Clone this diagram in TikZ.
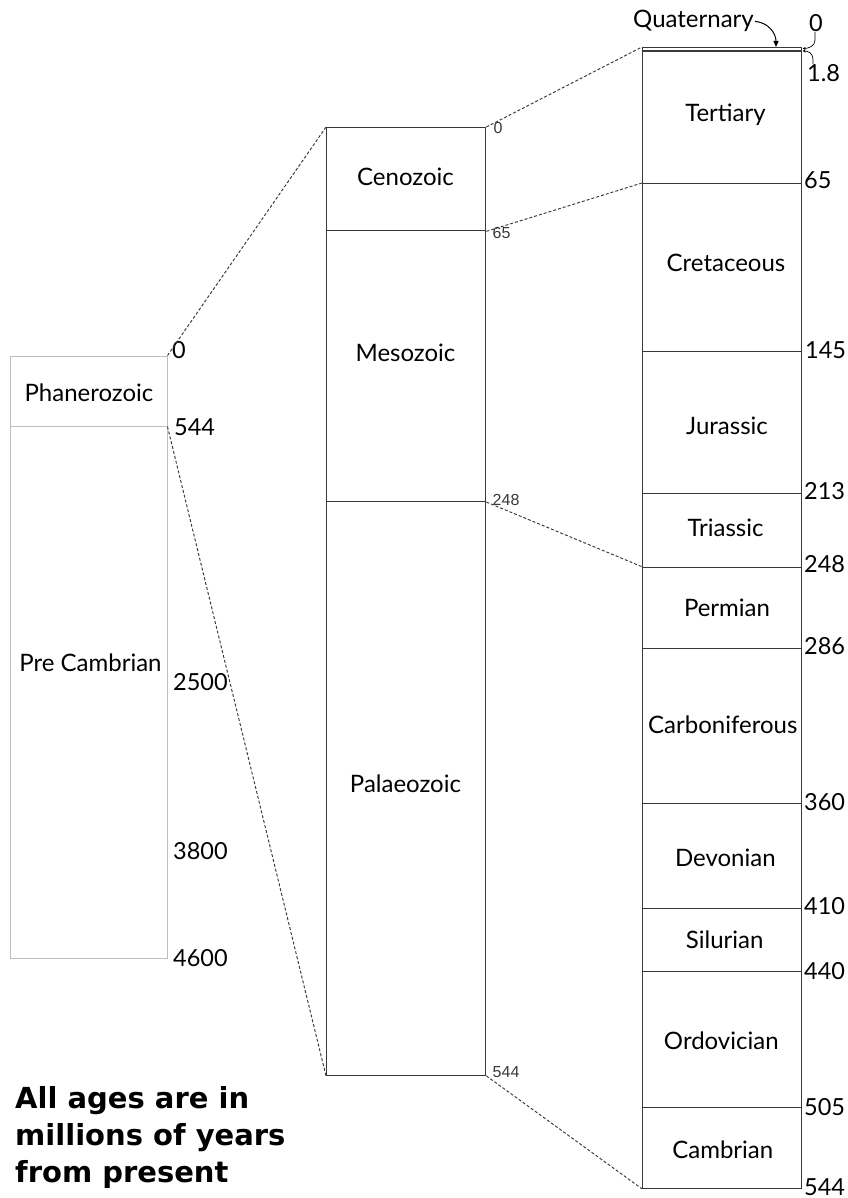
\documentclass[tikz,border=0pt]{standalone}
\usepackage{fontspec}
\setmainfont{Lato}
\newfontfamily\smallf{Liberation Sans}
\newfontfamily\notef{DejaVu Sans}
\usetikzlibrary{arrows.meta}
\definecolor{linec}{HTML}{383838}
\definecolor{lightc}{HTML}{BEBEBE}
\begin{document}
\begin{tikzpicture}[x=1pt,y=-1pt,
  band/.style={draw=linec, line width=1.35pt, inner sep=0pt, anchor=north west, minimum width=159pt},
  lband/.style={draw=lightc, line width=1pt, inner sep=0pt, anchor=north west, minimum width=157pt},
  ename/.style={anchor=base, inner sep=0pt, font=\fontsize{24}{26}\selectfont},
  age/.style={anchor=base west, inner sep=0pt, font=\fontsize{23.5}{25}\selectfont},
  sage/.style={anchor=base west, inner sep=0pt, font=\smallf\fontsize{16}{18}\selectfont, text=linec},
  link/.style={draw=linec, line width=0.95pt, dash pattern=on 3pt off 2pt},
  arr/.style={draw=black, line width=1pt, -{Triangle[length=6pt,width=5pt]}},
  arrs/.style={draw=black, line width=0.7pt, -{Stealth[length=3pt,width=3pt]}},
]
\useasboundingbox (0,0) rectangle (847,1198);
% left column
\node[lband, minimum height=70.2pt] (phan) at (9.5,355.5) {};
\node[lband, minimum height=532.3pt] (pre) at (9.5,425.7) {};
\node[ename] (phan-t) at (89,401) {Phanerozoic};
\node[ename] (pre-t) at (90.5,671) {Pre Cambrian};
\node[age] (l0) at (172,358) {0};
\node[age] (l544) at (174,435) {544};
\node[age] (l2500) at (173,690) {2500};
\node[age] (l3800) at (173,859) {3800};
\node[age] (l4600) at (173,966.7) {4600};
% middle column
\node[band, minimum height=103pt] (ceno) at (326,127) {};
\node[band, minimum height=270.7pt] (meso) at (326,230) {};
\node[band, minimum height=573.8pt] (palaeo) at (326,500.7) {};
\node[ename] (ceno-t) at (405.5,186) {Cenozoic};
\node[ename] (meso-t) at (405.5,361) {Mesozoic};
\node[ename] (palaeo-t) at (405.5,792) {Palaeozoic};
\node[sage] (m0) at (493.5,134) {0};
\node[sage] (m65) at (492.5,239) {65};
\node[sage] (m248) at (492.5,505) {248};
\node[sage] (m544) at (492.5,1077.7) {544};
% right column
\node[band, minimum height=3.5pt] (quat) at (642,47) {};
\node[band, minimum height=132.5pt] (tert) at (642,50.5) {};
\node[band, minimum height=168pt] (cret) at (642,183) {};
\node[band, minimum height=141.7pt] (jur) at (642,351) {};
\node[band, minimum height=74pt] (tri) at (642,492.7) {};
\node[band, minimum height=81.3pt] (perm) at (642,566.7) {};
\node[band, minimum height=155pt] (carb) at (642,648) {};
\node[band, minimum height=104.5pt] (dev) at (642,803) {};
\node[band, minimum height=63.2pt] (sil) at (642,907.5) {};
\node[band, minimum height=136.3pt] (ord) at (642,970.7) {};
\node[band, minimum height=80.5pt] (camb) at (642,1107) {};
\node[ename] (tert-t) at (725.5,121.5) {Tertiary};
\node[ename] (cret-t) at (726,271) {Cretaceous};
\node[ename] (jur-t) at (727,434) {Jurassic};
\node[ename] (tri-t) at (725.5,536) {Triassic};
\node[ename] (perm-t) at (727,616.7) {Permian};
\node[ename] (carb-t) at (722.8,733) {Carboniferous};
\node[ename] (dev-t) at (725.3,866.7) {Devonian};
\node[ename] (sil-t) at (724.7,948) {Silurian};
\node[ename] (ord-t) at (721.3,1049) {Ordovician};
\node[ename] (camb-t) at (722.8,1158) {Cambrian};
\node[age] (r0) at (809,31.7) {0};
\node[age] (r18) at (807,81.7) {1.8};
\node[age] (r65) at (804,189) {65};
\node[age] (r145) at (805,358) {145};
\node[age] (r213) at (804,499) {213};
\node[age] (r248) at (804,572.7) {248};
\node[age] (r286) at (804,654) {286};
\node[age] (r360) at (804,810) {360};
\node[age] (r410) at (804,914) {410};
\node[age] (r440) at (804,979) {440};
\node[age] (r505) at (804,1115) {505};
\node[age] (r544) at (804,1195) {544};
% Quaternary label and arrows
\node[anchor=base west, inner sep=0pt, font=\fontsize{24}{26}\selectfont] (quat-t) at (633,28) {Quaternary};
\coordinate (qtip) at (776,47);
\draw[arr] ([xshift=1pt]quat-t.east) .. controls +(13,1) and +(0,-14) .. (qtip);
\coordinate (q0tip) at (802.5,48.5);
\coordinate (q18tip) at (802.5,51);
\draw[arrs] ([xshift=-1pt]r0.south) -- ++(0,8) .. controls +(0,6) and +(6,0) .. (q0tip);
\draw[arrs] ([xshift=6pt]r18.north west) -- ++(0,-5) .. controls +(0,-6) and +(6,0) .. (q18tip);
% dashed connectors
\draw[link] (phan.north east) -- (ceno.north west);
\draw[link] (phan.south east) -- (palaeo.south west);
\draw[link] (ceno.north east) -- (quat.north west);
\draw[link] (ceno.south east) -- (cret.north west);
\draw[link] (meso.south east) -- (perm.north west);
\draw[link] (palaeo.south east) -- (camb.south west);
% note
\node[anchor=north west, inner sep=0pt, align=left, font=\notef\bfseries\fontsize{29}{37}\selectfont] (note) at (15,1086) {All ages are in\\millions of years\\from present};
\end{tikzpicture}
\end{document}
